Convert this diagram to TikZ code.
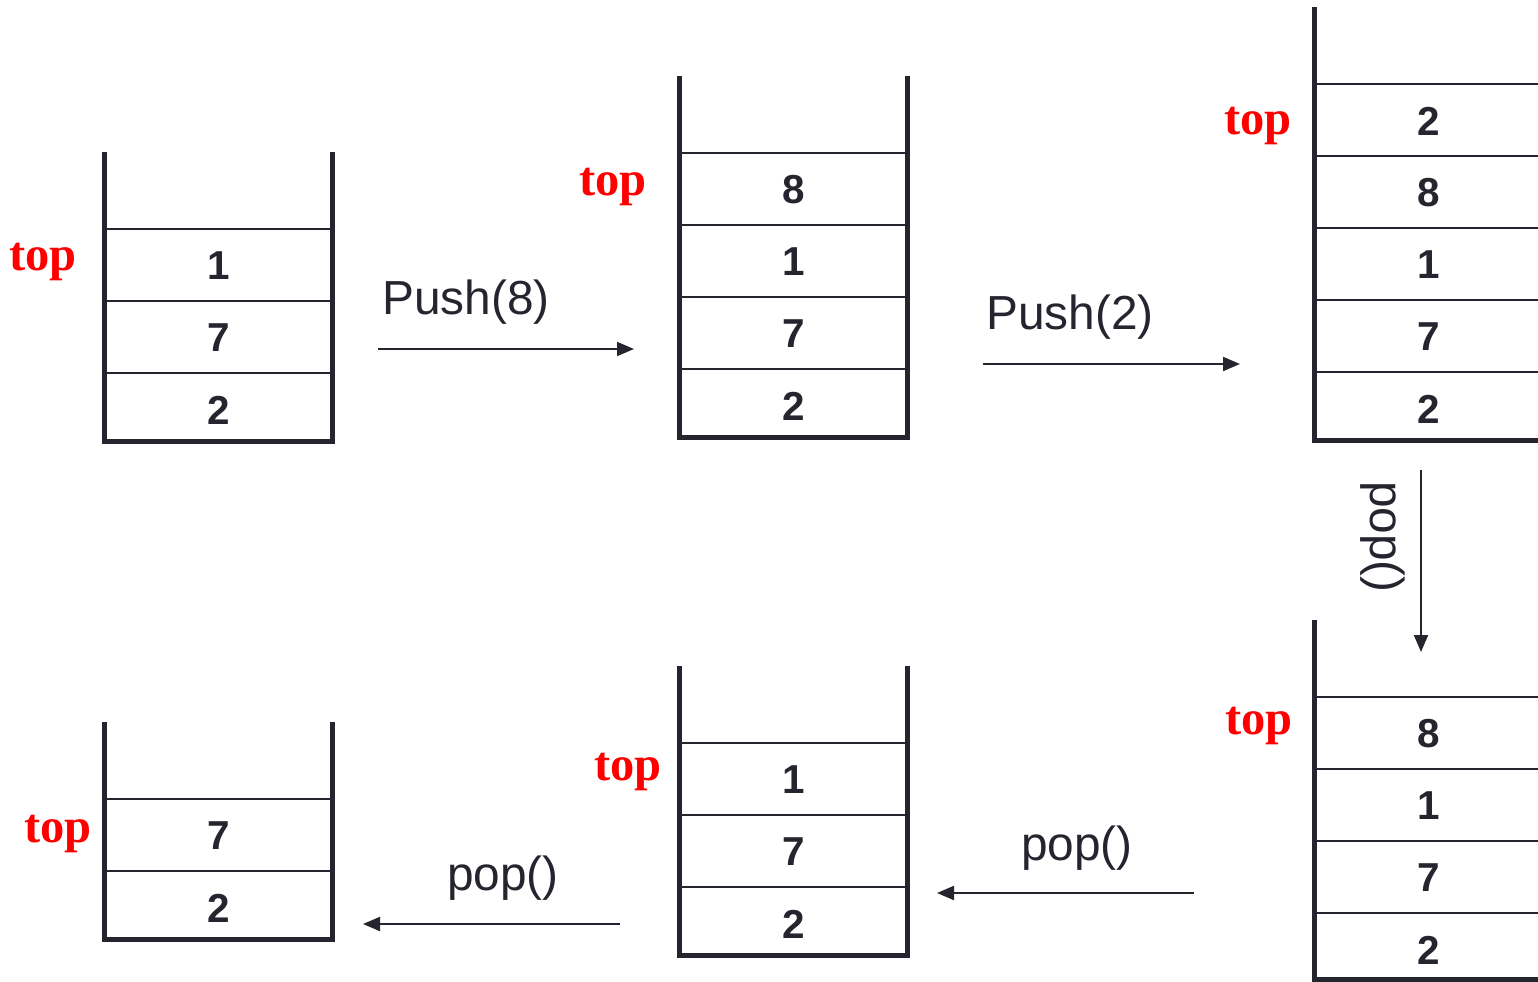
\documentclass[tikz,border=0pt]{standalone}
\usepackage{xcolor}
\usepackage{fontspec}
\setmainfont{Liberation Sans}
\newfontfamily\topserif{Liberation Serif}
\usetikzlibrary{arrows.meta, calc}
\definecolor{ink}{HTML}{25252F}
\definecolor{topred}{HTML}{FF0000}

\begin{document}
\begin{tikzpicture}[>={Triangle[length=1.7mm, width=1.4mm]}, every node/.style={text=ink, inner sep=0pt},
  cell/.style={minimum width=2.27cm, minimum height=0.72cm, font=\fontsize{11.5}{12}\selectfont\bfseries},
  wall/.style={draw=ink, line width=0.05cm, line join=miter},
  sep/.style={draw=ink, line width=0.022cm},
  toplbl/.style={text=topred, font=\fontsize{13.8}{14}\selectfont\topserif\bfseries},
  oplbl/.style={font=\fontsize{13.6}{14}\selectfont},
  opline/.style={draw=ink, line width=0.02cm, ->}]
  \useasboundingbox (0,0) rectangle (15.38,-9.81);
  \clip (0,0) rectangle (15.38,-9.81);

  % stack 1
  \node[cell] (s1a) at (2.185,-2.66) {1};
  \node[cell] (s1b) at (2.185,-3.38) {7};
  \node[cell] (s1c) at (2.185,-4.10) {2};
  % stack 2
  \node[cell] (s2a) at (7.935,-1.90) {8};
  \node[cell] (s2b) at (7.935,-2.62) {1};
  \node[cell] (s2c) at (7.935,-3.34) {7};
  \node[cell] (s2d) at (7.935,-4.06) {2};
  % stack 3
  \node[cell] (s3a) at (14.285,-1.21) {2};
  \node[cell] (s3b) at (14.285,-1.93) {8};
  \node[cell] (s3c) at (14.285,-2.65) {1};
  \node[cell] (s3d) at (14.285,-3.37) {7};
  \node[cell] (s3e) at (14.285,-4.09) {2};
  % stack 4
  \node[cell] (s4a) at (14.285,-7.34) {8};
  \node[cell] (s4b) at (14.285,-8.06) {1};
  \node[cell] (s4c) at (14.285,-8.78) {7};
  \node[cell] (s4d) at (14.285,-9.50) {2};
  % stack 5
  \node[cell] (s5a) at (7.935,-7.80) {1};
  \node[cell] (s5b) at (7.935,-8.52) {7};
  \node[cell] (s5c) at (7.935,-9.24) {2};
  % stack 6
  \node[cell] (s6a) at (2.185,-8.36) {7};
  \node[cell] (s6b) at (2.185,-9.08) {2};

  \foreach \c in {s1a,s1b,s1c,s2a,s2b,s2c,s2d,s3a,s3b,s3c,s3d,s3e,s4a,s4b,s4c,s4d,s5a,s5b,s5c,s6a,s6b}
    \draw[sep] (\c.north west) -- (\c.north east);

  \draw[wall] ($(s1a.north west)+(0,0.77)$) -- ($(s1c.south west)+(0,0.05)$) -- ($(s1c.south east)+(0,0.05)$) -- ($(s1a.north east)+(0,0.77)$);
  \draw[wall] ($(s2a.north west)+(0,0.77)$) -- ($(s2d.south west)+(0,0.05)$) -- ($(s2d.south east)+(0,0.05)$) -- ($(s2a.north east)+(0,0.77)$);
  \draw[wall] ($(s3a.north west)+(0,0.77)$) -- ($(s3e.south west)+(0,0.05)$) -- ($(s3e.south east)+(0,0.05)$) -- ($(s3a.north east)+(0,0.77)$);
  \draw[wall] ($(s4a.north west)+(0,0.77)$) -- ($(s4d.south west)+(0,0.075)$) -- ($(s4d.south east)+(0,0.075)$) -- ($(s4a.north east)+(0,0.77)$);
  \draw[wall] ($(s5a.north west)+(0,0.77)$) -- ($(s5c.south west)+(0,0.05)$) -- ($(s5c.south east)+(0,0.05)$) -- ($(s5a.north east)+(0,0.77)$);
  \draw[wall] ($(s6a.north west)+(0,0.77)$) -- ($(s6b.south west)+(0,0.05)$) -- ($(s6b.south east)+(0,0.05)$) -- ($(s6a.north east)+(0,0.77)$);

  % top markers
  \node[toplbl] (t1) at (0.43,-2.62) {top};
  \node[toplbl] (t2) at (6.13,-1.87) {top};
  \node[toplbl] (t3) at (12.58,-1.26) {top};
  \node[toplbl] (t4) at (12.59,-7.26) {top};
  \node[toplbl] (t5) at (6.28,-7.72) {top};
  \node[toplbl] (t6) at (0.58,-8.34) {top};

  % operations
  \coordinate (push8s) at (3.78,-3.49);
  \coordinate (push8e) at (6.34,-3.49);
  \draw[opline] (push8s) -- (push8e);
  \node[oplbl] (push8) at (4.66,-3.02) {Push(8)};

  \coordinate (push2s) at (9.83,-3.64);
  \coordinate (push2e) at (12.40,-3.64);
  \draw[opline] (push2s) -- (push2e);
  \node[oplbl] (push2) at (10.70,-3.17) {Push(2)};

  \coordinate (popas) at (14.21,-4.70);
  \coordinate (popae) at (14.21,-6.52);
  \draw[opline] (popas) -- (popae);
  \node[oplbl, rotate=-90] (popa) at (13.83,-5.37) {pop()};

  \coordinate (popbs) at (11.94,-8.93);
  \coordinate (popbe) at (9.37,-8.93);
  \draw[opline] (popbs) -- (popbe);
  \node[oplbl] (popb) at (10.77,-8.48) {pop()};

  \coordinate (popcs) at (6.20,-9.24);
  \coordinate (popce) at (3.63,-9.24);
  \draw[opline] (popcs) -- (popce);
  \node[oplbl] (popc) at (5.03,-8.78) {pop()};
\end{tikzpicture}
\end{document}
